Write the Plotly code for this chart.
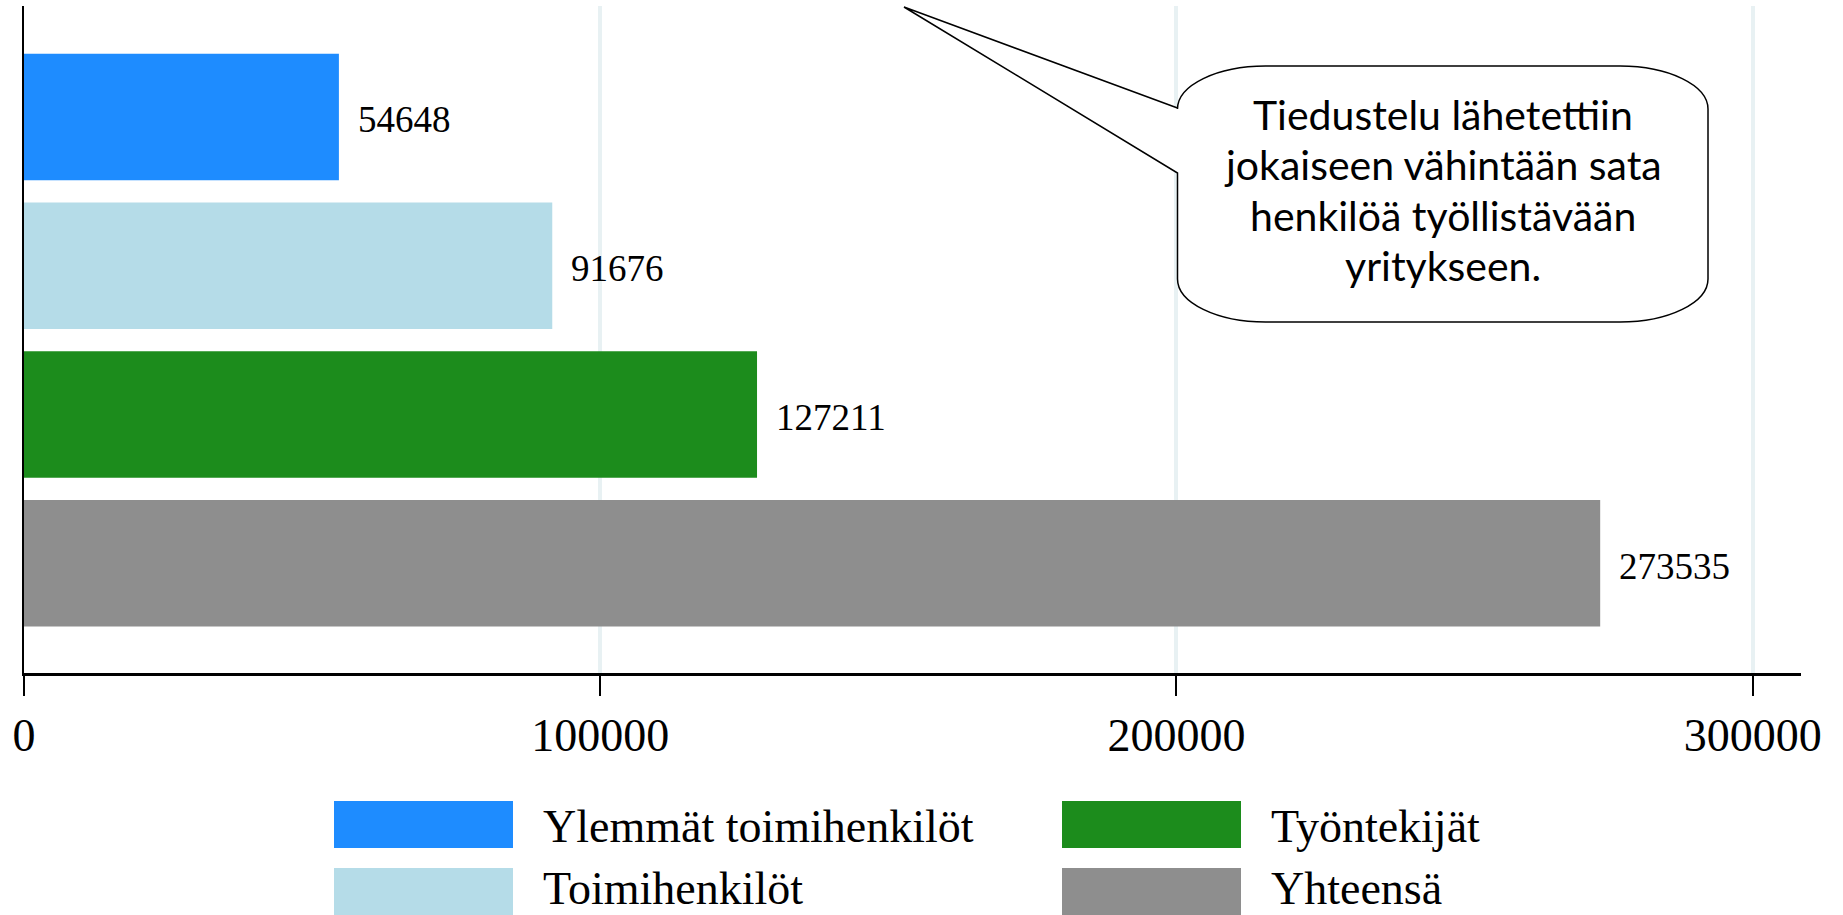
import plotly.graph_objects as go

# ---- data ----
categories = ["Ylemmät toimihenkilöt", "Toimihenkilöt", "Työntekijät", "Yhteensä"]
values = [54648, 91676, 127211, 273535]
colors = ["#1E8CFF", "#B5DCE8", "#1C8C1C", "#8E8E8E"]
tick_values = [0, 100000, 200000, 300000]
tick_labels = ["0", "100000", "200000", "300000"]
callout_lines = ["Tiedustelu lähetettiin", "jokaiseen vähintään sata",
                 "henkilöä työllistävään", "yritykseen."]

W, H = 1843, 915
ML, MR, MT, MB = 24, 42, 6, 242
PW, PH = W - ML - MR, H - MT - MB

SERIF = "Liberation Serif, Times New Roman, serif"


def px(x):
    return (x - ML) / PW


def py(y):
    return (H - MB - y) / PH


fig = go.Figure()
fig.add_trace(go.Bar(
    y=categories, x=values, orientation="h",
    marker=dict(color=colors, line=dict(width=0)),
    width=0.85, showlegend=False, hoverinfo="x+y",
))

# value labels
for c, v in zip(categories, values):
    fig.add_annotation(x=v, y=c, text=str(v), showarrow=False,
                       xanchor="left", yanchor="middle", xshift=17, yshift=-3,
                       font=dict(family=SERIF, size=37, color="black"))

# custom legend (column-major, 2 rows)
sw_w, sw_h = 179, 47
for i, (c, col) in enumerate(zip(categories, colors)):
    cc, rr = i // 2, i % 2
    left = 334 + cc * 728
    top = 801 + rr * 67
    fig.add_shape(type="rect", xref="paper", yref="paper",
                  x0=px(left), x1=px(left + sw_w), y0=py(top + sw_h), y1=py(top),
                  fillcolor=col, line=dict(width=0))
    fig.add_annotation(xref="paper", yref="paper", x=px(left + 207),
                       y=py(top + sw_h / 2 + 2 - rr * 5),
                       text=c, showarrow=False, xanchor="left", yanchor="middle",
                       font=dict(family=SERIF, size=46, color="black"))

# callout (rounded rectangle with wedge)
L, R, T, B = 1177.5, 1708, 66, 322
rx, ry = 88, 43
k = 0.5523
tip = (904, 7)
a1, a2 = 108, 173


def P(x, y):
    return f"{px(x):.6f},{py(y):.6f}"


path = (
    f"M {P(L, a1)} L {P(*tip)} L {P(L, a2)} L {P(L, B - ry)} "
    f"C {P(L, B - ry + k * ry)} {P(L + rx - k * rx, B)} {P(L + rx, B)} "
    f"L {P(R - rx, B)} "
    f"C {P(R - rx + k * rx, B)} {P(R, B - ry + k * ry)} {P(R, B - ry)} "
    f"L {P(R, T + ry)} "
    f"C {P(R, T + ry - k * ry)} {P(R - rx + k * rx, T)} {P(R - rx, T)} "
    f"L {P(L + rx, T)} "
    f"C {P(L + rx - k * rx, T)} {P(L, T + ry - k * ry)} {P(L, T + ry)} Z"
)
fig.add_shape(type="path", xref="paper", yref="paper", path=path,
              fillcolor="white", line=dict(color="black", width=1.5), layer="above")
for j, line in enumerate(callout_lines):
    fig.add_annotation(xref="paper", yref="paper", x=px((L + R) / 2), y=py(114 + j * 50.5),
                       text=line, showarrow=False,
                       xanchor="center", yanchor="middle", align="center",
                       font=dict(family="Lato, Carlito, Calibri, sans-serif", size=41, color="black"))

fig.update_layout(
    width=W, height=H,
    margin=dict(l=ML, r=MR, t=MT, b=MB, pad=0),
    paper_bgcolor="white", plot_bgcolor="white",
    bargap=0.15,
    xaxis=dict(range=[0, PW / 0.0057623], tickvals=tick_values, ticktext=tick_labels,
               showgrid=True, gridcolor="#E8F1F3", gridwidth=4, zeroline=False,
               showline=True, linecolor="black", linewidth=3,
               ticks="outside", ticklen=20, tickwidth=2, tickcolor="black",
               tickfont=dict(family=SERIF, size=46, color="black")),
    yaxis=dict(range=[3.738, -0.746], showticklabels=False, ticks="",
               showgrid=False, zeroline=False,
               showline=True, linecolor="black", linewidth=2),
    showlegend=False,
)

fig.write_html("out.html", config={"displayModeBar": False},
               post_script="document.body.style.margin='0';document.body.style.overflow='hidden';")
